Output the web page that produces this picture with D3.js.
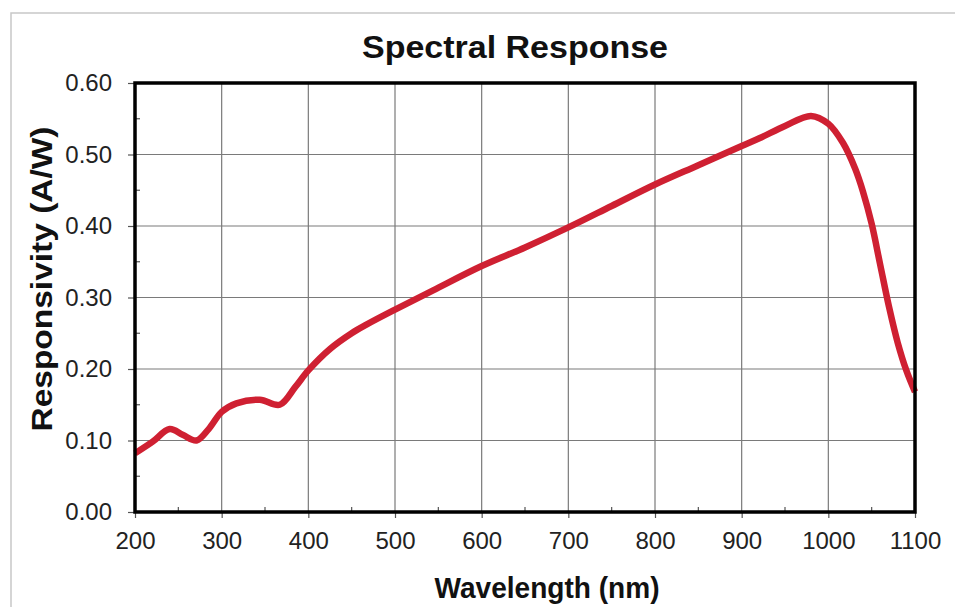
<!DOCTYPE html>
<html>
<head>
<meta charset="utf-8">
<script src="https://cdn.jsdelivr.net/npm/d3@7"></script>
<style>
  body { margin: 0; background: #fff; }
  text { font-family: Arial, "Liberation Sans", sans-serif; }
</style>
</head>
<body>
<svg id="chart" width="955" height="607"></svg>
<script>
// wavelength (nm) and responsivity (A/W)
var wavelength = [200, 220, 240, 255, 271, 285, 300, 317, 344, 367, 385, 400, 425, 450, 467, 500, 544, 600, 650, 700, 750, 800, 850, 900, 921, 950, 980, 1000, 1017, 1031, 1040, 1050, 1060, 1070, 1080, 1090, 1100];
var responsivity = [0.082, 0.098, 0.116, 0.108, 0.100, 0.116, 0.140, 0.152, 0.157, 0.150, 0.175, 0.198, 0.228, 0.250, 0.262, 0.283, 0.310, 0.344, 0.370, 0.398, 0.428, 0.458, 0.485, 0.512, 0.523, 0.540, 0.554, 0.543, 0.516, 0.480, 0.448, 0.403, 0.345, 0.287, 0.237, 0.198, 0.168];
var xTicks = [200, 300, 400, 500, 600, 700, 800, 900, 1000, 1100];
var yTicks = [0, 0.1, 0.2, 0.3, 0.4, 0.5, 0.6];

var svg = d3.select("#chart");
var pLeft = 135, pRight = 915, pTop = 83, pBottom = 512;

var x = d3.scaleLinear().domain([200, 1100]).range([pLeft, pRight]);
var y = d3.scaleLinear().domain([0, 0.6]).range([pBottom, pTop]);

// outer light frame (runs off the right/bottom edge)
svg.append("rect")
    .attr("x", 11).attr("y", 13)
    .attr("width", 980).attr("height", 640)
    .attr("fill", "none").attr("stroke", "#c8c8c8").attr("stroke-width", 1.5);

// grid
svg.append("g")
  .selectAll("line")
  .data(xTicks.slice(1, -1))
  .enter().append("line")
    .attr("x1", function(d) { return x(d); }).attr("x2", function(d) { return x(d); })
    .attr("y1", pTop).attr("y2", pBottom)
    .attr("stroke", "#7a7a7a").attr("stroke-width", 1.2);
svg.append("g")
  .selectAll("line")
  .data(yTicks.slice(1, -1))
  .enter().append("line")
    .attr("x1", pLeft).attr("x2", pRight)
    .attr("y1", function(d) { return y(d); }).attr("y2", function(d) { return y(d); })
    .attr("stroke", "#7a7a7a").attr("stroke-width", 1.2);

// minor ticks (inside)
var xMinor = d3.range(250, 1100, 100), yMinor = d3.range(0.05, 0.6, 0.1);
svg.append("g").selectAll("line").data(xMinor).enter().append("line")
    .attr("x1", function(d) { return x(d); }).attr("x2", function(d) { return x(d); })
    .attr("y1", pBottom).attr("y2", pBottom - 5)
    .attr("stroke", "#555").attr("stroke-width", 1.2);
svg.append("g").selectAll("line").data(yMinor).enter().append("line")
    .attr("x1", pLeft).attr("x2", pLeft + 5)
    .attr("y1", function(d) { return y(d); }).attr("y2", function(d) { return y(d); })
    .attr("stroke", "#555").attr("stroke-width", 1.2);

// axes
var xAxis = svg.append("g")
    .attr("transform", "translate(0," + pBottom + ")")
    .call(d3.axisBottom(x).tickValues(xTicks).tickSize(6).tickPadding(14).tickFormat(d3.format("d")));
var yAxis = svg.append("g")
    .attr("transform", "translate(" + pLeft + ",0)")
    .call(d3.axisLeft(y).tickValues(yTicks).tickSize(7).tickPadding(16).tickFormat(d3.format(".2f")));
[xAxis, yAxis].forEach(function(g) {
  g.select(".domain").remove();
  g.selectAll(".tick line").attr("stroke", "#555").attr("stroke-width", 1.2);
  g.selectAll(".tick text")
    .attr("fill", "#222")
    .style("font-size", "24px")
    .style("font-family", "Arial, 'Liberation Sans', sans-serif");
});

// the curve
var line = d3.line()
    .x(function(d, i) { return x(wavelength[i]); })
    .y(function(d) { return y(d); })
    .curve(d3.curveCatmullRom.alpha(0.5));

svg.append("path")
    .datum(responsivity)
    .attr("d", line)
    .attr("fill", "none")
    .attr("stroke", "#cf2032")
    .attr("stroke-width", 6.5)
    .attr("stroke-linejoin", "round")
    .attr("stroke-linecap", "butt");

// plot frame
svg.append("rect")
    .attr("x", pLeft).attr("y", pTop)
    .attr("width", pRight - pLeft).attr("height", pBottom - pTop)
    .attr("fill", "none").attr("stroke", "#000").attr("stroke-width", 3.5);

// titles
svg.append("text")
    .attr("x", 515).attr("y", 58)
    .attr("text-anchor", "middle")
    .attr("textLength", 306).attr("lengthAdjust", "spacingAndGlyphs")
    .style("font-size", "32px").style("font-weight", "bold").attr("fill", "#111")
    .text("Spectral Response");

svg.append("text")
    .attr("x", 547).attr("y", 598)
    .attr("text-anchor", "middle")
    .attr("textLength", 225).attr("lengthAdjust", "spacingAndGlyphs")
    .style("font-size", "30px").style("font-weight", "bold").attr("fill", "#111")
    .text("Wavelength (nm)");

svg.append("text")
    .attr("transform", "translate(52,279) rotate(-90)")
    .attr("text-anchor", "middle")
    .attr("textLength", 305).attr("lengthAdjust", "spacingAndGlyphs")
    .style("font-size", "30px").style("font-weight", "bold").attr("fill", "#111")
    .text("Responsivity (A/W)");
</script>
</body>
</html>
